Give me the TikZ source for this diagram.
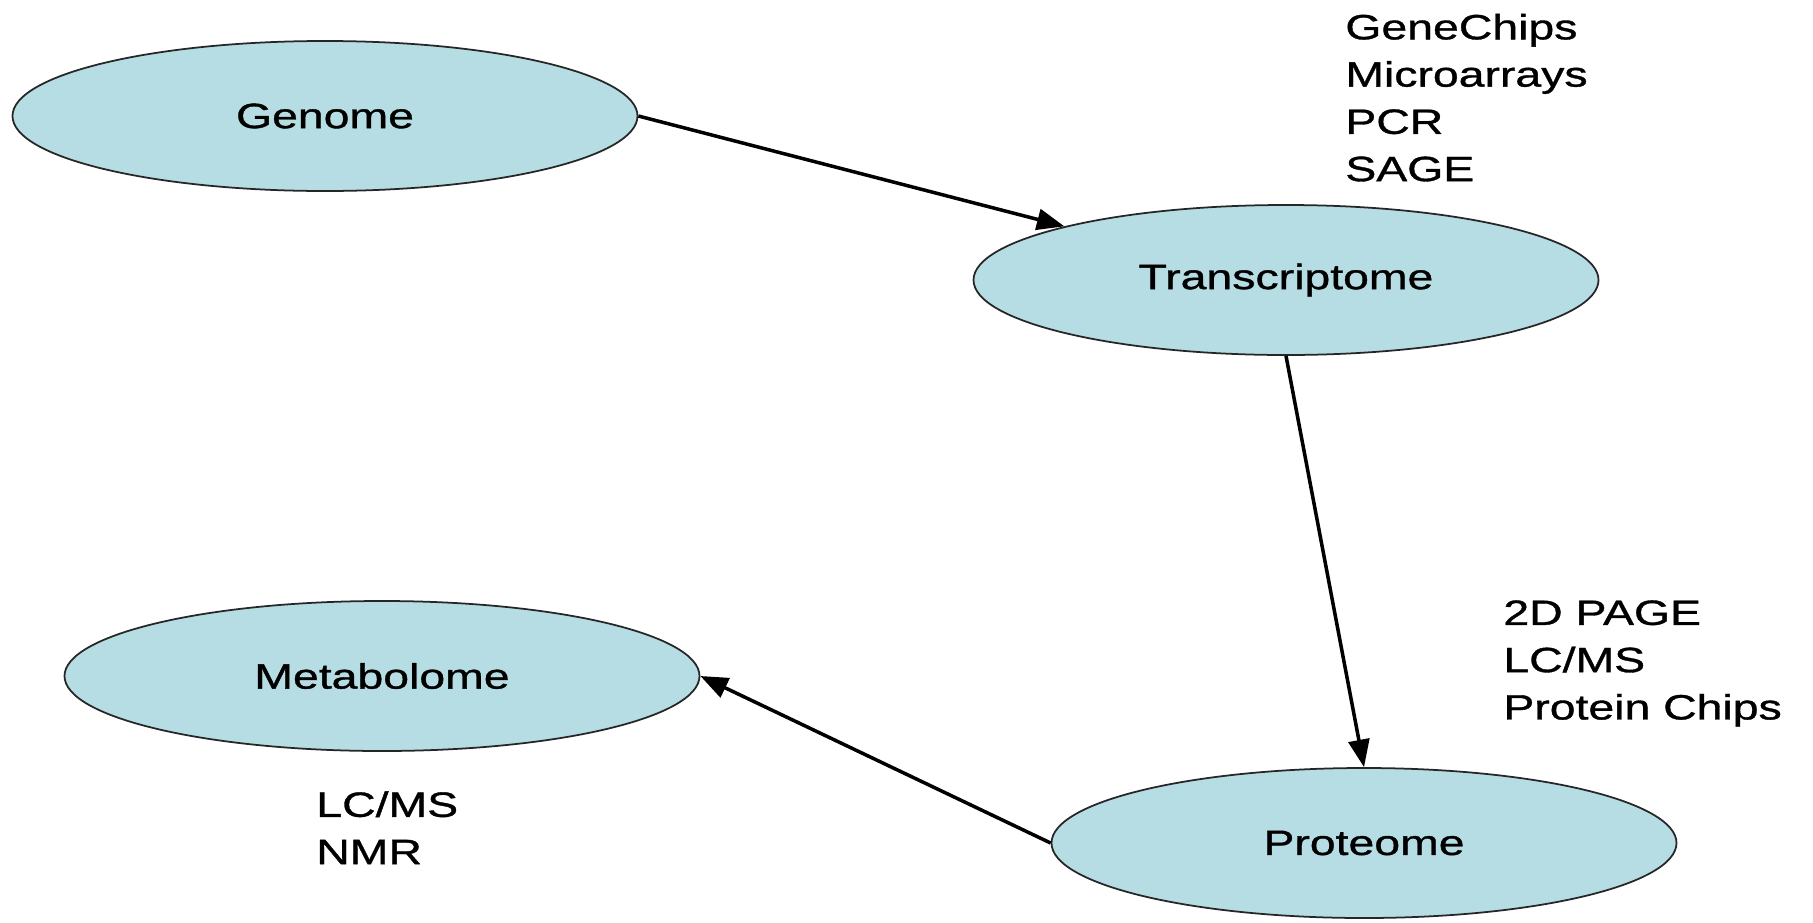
\documentclass[tikz,border=0pt]{standalone}
\usepackage{fontspec}
\setmainfont{Liberation Sans}[FakeStretch=1.32,FakeBold=1]
\usetikzlibrary{shapes.geometric,arrows.meta}
\definecolor{omicsblue}{RGB}{182,221,227}
\begin{document}
\begin{tikzpicture}[
    font=\fontsize{20}{26.9}\selectfont,
    omics/.style={ellipse,draw=black!85,line width=1pt,fill=omicsblue,
      minimum width=12.5cm,minimum height=3cm,inner sep=0pt},
    methods/.style={anchor=north west,align=left,inner sep=0pt},
    link/.style={line width=2pt,-{Triangle[length=0.55cm,width=0.42cm]}}
  ]

  \useasboundingbox (0,0) rectangle (36.26,-18.44);

\node (genome) at (6.5, -2.32) [omics] {Genome};
\node (trans) at (25.72, -5.6) [omics] {Transcriptome};

\node (metab) at (7.64, -13.52) [omics, minimum width=12.7cm] {Metabolome};
\node (prot) at (27.28, -16.86) [omics] {Proteome};

%% methods next to each level
\node (transm) at (26.9, -0.27) [methods] {GeneChips\\Microarrays\\PCR\\SAGE};
\node (protm) at (30.06, -12.0) [methods] {2D PAGE\\LC/MS\\Protein Chips};
\node (metabm) at (6.32, -15.82) [methods] {LC/MS\\NMR};

\draw[link] (genome.east) -- (trans.north west);
\draw[link] (trans.south) -- (prot.north);
\draw[link] (prot.west) -- (metab.east);

\end{tikzpicture}
\end{document}
